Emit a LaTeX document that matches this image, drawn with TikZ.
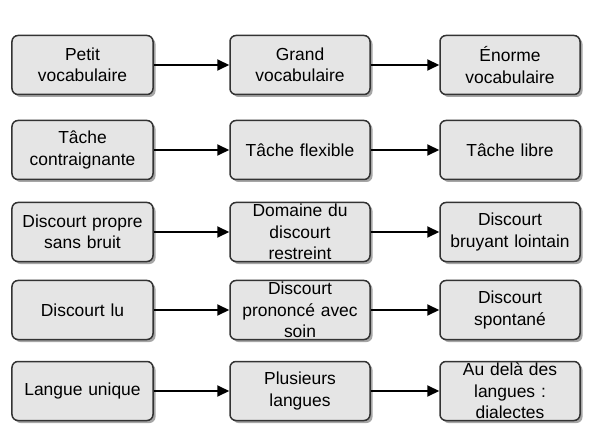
\documentclass[tikz,border=0pt]{standalone}
\usepackage{fontspec}
\setmainfont{Liberation Sans}
\usetikzlibrary{arrows.meta,shadows}
\begin{document}
\begin{tikzpicture}[x=1bp,y=-1bp,
  box/.style={draw=black!80, line width=1.5bp, fill=black!10, rounded corners=6bp,
    minimum width=140bp, minimum height=59bp, inner sep=0pt, text width=140bp, align=center,
    font=\fontsize{17.5}{21.5}\selectfont,
    drop shadow={shadow xshift=2.5bp, shadow yshift=-2.5bp, fill=black!35, opacity=1}},
  conn/.style={line width=2bp, -{Triangle[length=12bp,width=11bp]}}]
\useasboundingbox (0,0) rectangle (600,441);
% column x: 82.5, 300, 510 ; row y: 65, 150, 232, 310, 391
\node[box, minimum width=141bp] (a1) at (82.5,65) {Petit\\vocabulaire};
\node[box] (b1) at (300,65) {Grand\\vocabulaire};
\node[box] (c1) at (510,65) {Énorme\\vocabulaire};
\node[box, minimum width=141bp] (a2) at (82.5,150) {Tâche\\contraignante};
\node[box] (b2) at (300,150) {Tâche flexible};
\node[box] (c2) at (510,150) {Tâche libre};
\node[box, minimum width=141bp] (a3) at (82.5,232) {Discourt propre\\sans bruit};
\node[box] (b3) at (300,232) {Domaine du\\discourt\\restreint};
\node[box] (c3) at (510,232) {Discourt\\bruyant lointain};
\node[box, minimum width=141bp] (a4) at (82.5,310) {Discourt lu};
\node[box] (b4) at (300,310) {Discourt\\prononcé avec\\soin};
\node[box] (c4) at (510,310) {Discourt\\spontané};
\node[box, minimum width=141bp] (a5) at (82.5,391) {Langue unique};
\node[box] (b5) at (300,391) {Plusieurs\\langues};
\node[box] (c5) at (510,391) {Au delà des\\langues :\\dialectes};
\foreach \r in {1,...,5}{
  \draw[conn] (a\r.east) -- (b\r.west);
  \draw[conn] (b\r.east) -- (c\r.west);
}
\end{tikzpicture}
\end{document}
